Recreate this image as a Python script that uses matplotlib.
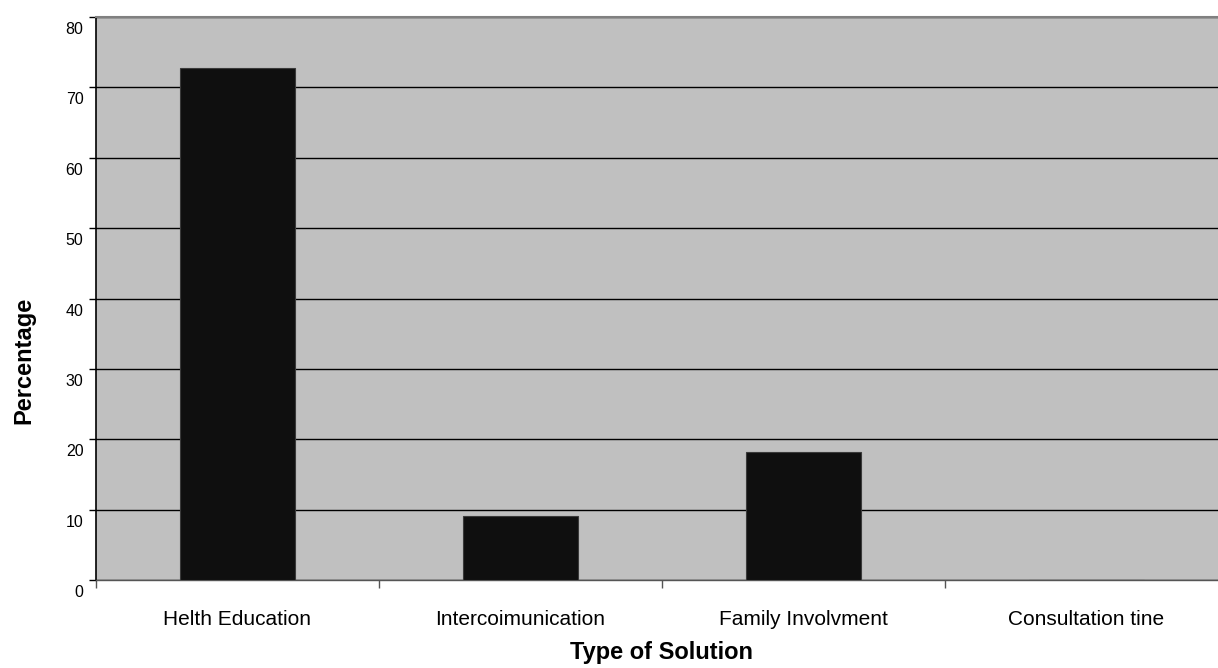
import matplotlib
matplotlib.use("Agg")
import matplotlib.pyplot as plt
from matplotlib.transforms import ScaledTranslation
import numpy as np

plt.rcParams['font.family'] = ['Liberation Sans', 'DejaVu Sans']

categories = ["Helth Education", "Intercoimunication", "Family Involvment", "Consultation tine"]
percentages = [72.7, 9.1, 18.2, 0.0]
y_ticks = [0, 10, 20, 30, 40, 50, 60, 70, 80]

fig = plt.figure(figsize=(12.18, 6.68), dpi=100)
ax = fig.add_axes([96 / 1218, 88 / 668, 1132 / 1218, 563 / 668])
ax.set_facecolor('#c0c0c0')

x = np.arange(len(categories))
ax.bar(x, percentages, width=0.406, color='#0f0f0f', edgecolor='#3a3a3a',
       linewidth=0.8, zorder=3)

ax.set_xlim(-0.5, len(categories) - 0.5)
ax.set_ylim(0, 80)

# horizontal gridlines
ax.set_yticks(y_ticks)
ax.yaxis.grid(True, color='black', linewidth=1.0, zorder=1)
ax.set_axisbelow(True)

# category boundaries carry the ticks, centers carry the labels
ax.set_xticks(np.arange(len(categories) + 1) - 0.5)
ax.set_xticklabels([])
ax.set_xticks(x, minor=True)
ax.set_xticklabels(categories, minor=True, fontsize=15)
ax.tick_params(axis='x', which='major', direction='out', length=6, width=1, color='#555555')
ax.tick_params(axis='x', which='minor', length=0, pad=21.5)
ax.tick_params(axis='y', direction='out', length=5, width=1, color='black',
               labelsize=11.5, pad=4)

offset = ScaledTranslation(0, -11 / 100, fig.dpi_scale_trans)
for lbl in ax.get_yticklabels():
    lbl.set_transform(lbl.get_transform() + offset)

for side in ['top', 'right']:
    ax.spines[side].set_color('#808080')
    ax.spines[side].set_linewidth(1.5)
ax.spines['left'].set_color('black')
ax.spines['left'].set_linewidth(1.2)
ax.spines['bottom'].set_color('#555555')
ax.spines['bottom'].set_linewidth(1.0)

ax.set_ylabel("Percentage", fontsize=17, fontweight='bold', labelpad=22, y=0.39)
ax.set_xlabel("Type of Solution", fontsize=17, fontweight='bold', labelpad=9)

fig.savefig("out.png", dpi=100)
